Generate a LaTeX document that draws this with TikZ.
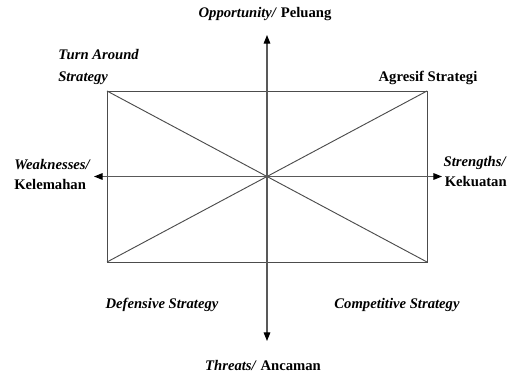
\documentclass[tikz,border=0pt]{standalone}
\usepackage{fontspec}
\setmainfont{Liberation Serif}
\usetikzlibrary{arrows.meta}
\begin{document}
\begin{tikzpicture}[x=0.75pt,y=-0.75pt,
  lbl/.style={inner sep=0pt,font=\fontsize{11}{15}\selectfont\bfseries},
  frame/.style={draw=black!70,line width=0.7pt},
  axis/.style={draw=black!65,line width=0.8pt,-{Triangle[length=6.5pt,width=5pt,color=black]}}]
\useasboundingbox (0,0) rectangle (514,378);
% quadrant frame and its diagonals
\coordinate (tl) at (107,91);
\coordinate (tr) at (427,91);
\coordinate (bl) at (107,262);
\coordinate (br) at (427,262);
\coordinate (c) at (267,176.5);
\draw[frame] (tl) rectangle (br);
\draw[frame] (tl) -- (br);
\draw[frame] (bl) -- (tr);
% axes
\coordinate (up) at (267,35);
\coordinate (down) at (267,341);
\coordinate (left) at (94,176.5);
\coordinate (right) at (442,176.5);
\draw[axis] (c) -- (up);
\draw[axis] (c) -- (down);
\draw[axis] (c) -- (left);
\draw[axis] (c) -- (right);
% labels
\node[lbl] (opp) at (265,14) {\textit{Opportunity/} Peluang};
\node[lbl] (thr) at (263,365) {\textit{Threats/} Ancaman};
\node[lbl,anchor=west,align=left,font=\fontsize{11}{17}\selectfont\bfseries] (turn) at (58,67) {\textit{Turn Around}\\\textit{Strategy}};
\node[lbl] (agr) at (428,78) {Agresif Strategi};
\node[lbl,anchor=west,align=left] (weak) at (14,174) {\textit{Weaknesses/}\\Kelemahan};
\node[lbl,anchor=east,align=right] (str) at (507,172) {\textit{Strengths/}\\Kekuatan};
\node[lbl] (def) at (162,305) {\textit{Defensive Strategy}};
\node[lbl] (comp) at (397,305) {\textit{Competitive Strategy}};
\end{tikzpicture}
\end{document}
